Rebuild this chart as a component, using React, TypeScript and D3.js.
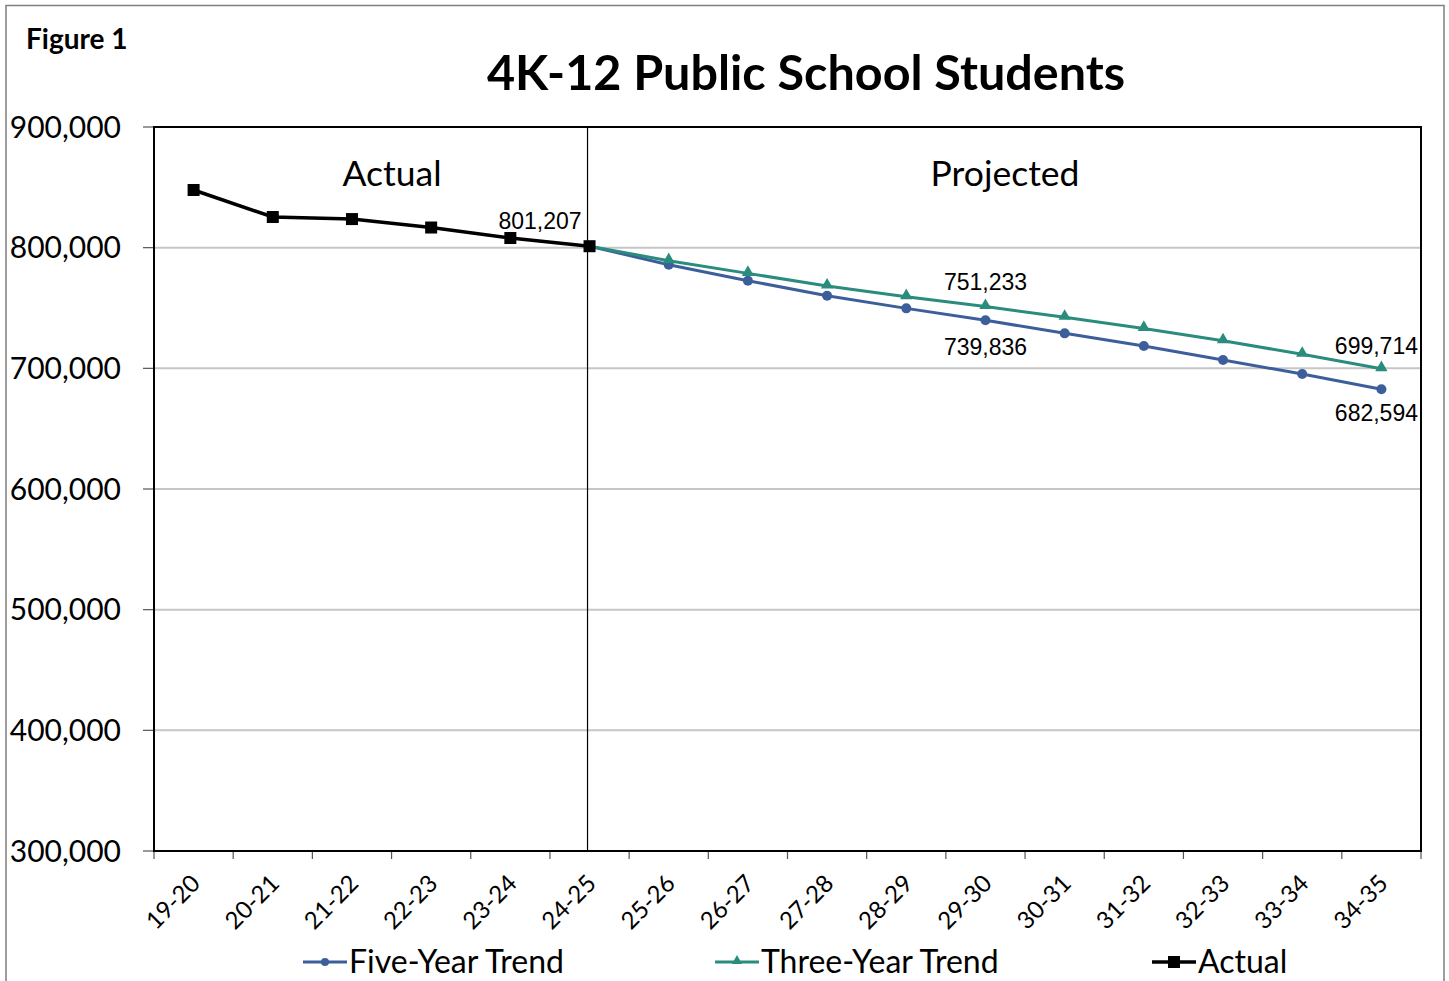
import React from 'react';
import * as d3 from 'd3';

const categories = ['19-20','20-21','21-22','22-23','23-24','24-25','25-26','26-27','27-28','28-29','29-30','30-31','31-32','32-33','33-34','34-35'];
const actualCats = ['19-20','20-21','21-22','22-23','23-24','24-25'];
const actualValues = [847800, 825400, 823700, 816700, 808000, 801207];
const projCats = ['24-25','25-26','26-27','27-28','28-29','29-30','30-31','31-32','32-33','33-34','34-35'];
const fiveYearValues = [801207, 785900, 772600, 760200, 749700, 739836, 729000, 718500, 706900, 695300, 682594];
const threeYearValues = [801207, 789200, 778700, 768200, 759400, 751233, 742300, 733100, 722900, 711600, 699714];
const yTicks = [300000, 400000, 500000, 600000, 700000, 800000, 900000];

const W = 1449, H = 981;
const L = 154, R = 1421, T = 127, B = 851;
const BLUE = '#3c5f9b';
const TEAL = '#2a8c7c';
const CAL = 'Lato, "Open Sans", sans-serif';
const ARIAL = '"Liberation Sans", Arial, sans-serif';

export default function App() {
  const x = d3.scaleBand<string>().domain(categories).range([L, R]);
  const cx = (c: string) => (x(c) as number) + x.bandwidth() / 2;
  const y = d3.scaleLinear().domain([300000, 900000]).range([B, T]);
  const fmt = d3.format(',');

  const line = d3.line<[string, number]>().x(d => cx(d[0])).y(d => y(d[1]));
  const actualPts: [string, number][] = actualCats.map((c, i) => [c, actualValues[i]]);
  const fivePts: [string, number][] = projCats.map((c, i) => [c, fiveYearValues[i]]);
  const threePts: [string, number][] = projCats.map((c, i) => [c, threeYearValues[i]]);
  const tri = d3.symbol().type(d3.symbolTriangle).size(65)();
  const triLegend = d3.symbol().type(d3.symbolTriangle).size(45)();

  const boundaries = [...categories.map(c => x(c) as number), R];
  const divX = cx('24-25');

  const labels = [
    { text: fmt(actualValues[5]), x: cx('24-25') - 8, y: y(actualValues[5]) - 17, anchor: 'end' },
    { text: fmt(threeYearValues[5]), x: cx('29-30'), y: y(threeYearValues[5]) - 17, anchor: 'middle' },
    { text: fmt(fiveYearValues[5]), x: cx('29-30'), y: y(fiveYearValues[5]) + 35, anchor: 'middle' },
    { text: fmt(threeYearValues[10]), x: R - 3, y: y(threeYearValues[10]) - 15, anchor: 'end' },
    { text: fmt(fiveYearValues[10]), x: R - 3, y: y(fiveYearValues[10]) + 32, anchor: 'end' },
  ];

  return (
    <svg width={W} height={H} style={{ position: 'absolute', left: 0, top: 0, background: '#fff' }}>
      <rect x={6} y={5.5} width={1438} height={990} fill="#fff" stroke="#7f7f7f" strokeWidth={1.5} />
      <text x={26} y={49} fontFamily={CAL} fontWeight={700} fontSize={28} fill="#000">Figure 1</text>
      <text x={806} y={90} textAnchor="middle" fontFamily={CAL} fontWeight={700} fontSize={48.5} fill="#000">4K-12 Public School Students</text>

      {/* gridlines */}
      {yTicks.filter(v => v > 300000 && v < 900000).map(v => (
        <line key={v} x1={L} x2={R} y1={y(v)} y2={y(v)} stroke="#c6c6c6" strokeWidth={2} />
      ))}
      {/* y ticks & labels */}
      {yTicks.map(v => (
        <g key={'yt' + v}>
          <line x1={143} x2={L} y1={y(v)} y2={y(v)} stroke="#555" strokeWidth={1.2} />
          <text x={121} y={y(v)} dy="0.35em" textAnchor="end" fontFamily={CAL} fontSize={30} fill="#000">{fmt(v)}</text>
        </g>
      ))}
      {/* x ticks */}
      {boundaries.map((bx, i) => (
        <line key={'xt' + i} x1={bx} x2={bx} y1={B} y2={B + 8} stroke="#555" strokeWidth={1.2} />
      ))}
      {categories.map(c => (
        <text key={'xl' + c} transform={`translate(${cx(c) + 8},${B + 34}) rotate(-45)`} textAnchor="end"
          fontFamily={CAL} fontSize={24} fill="#000">{c}</text>
      ))}

      {/* plot border */}
      <rect x={L} y={T} width={R - L} height={B - T} fill="none" stroke="#000" strokeWidth={2} />
      <line x1={divX - 2} x2={divX - 2} y1={T} y2={B} stroke="#000" strokeWidth={1.2} />

      <text x={392} y={186} textAnchor="middle" fontFamily={CAL} fontSize={35.5} fill="#000">Actual</text>
      <text x={1005} y={186} textAnchor="middle" fontFamily={CAL} fontSize={35.5} fill="#000">Projected</text>

      {/* series */}
      <path d={line(fivePts) as string} fill="none" stroke={BLUE} strokeWidth={3} />
      <path d={line(threePts) as string} fill="none" stroke={TEAL} strokeWidth={3} />
      {fivePts.slice(1).map(p => (
        <circle key={'f' + p[0]} cx={cx(p[0])} cy={y(p[1])} r={5} fill={BLUE} />
      ))}
      {threePts.slice(1).map(p => (
        <path key={'t' + p[0]} d={tri as string} transform={`translate(${cx(p[0])},${y(p[1]) - 1})`} fill={TEAL} />
      ))}
      <path d={line(actualPts) as string} fill="none" stroke="#000" strokeWidth={3.5} />
      {actualPts.map(p => (
        <rect key={'a' + p[0]} x={cx(p[0]) - 6} y={y(p[1]) - 6} width={12} height={12} fill="#000" />
      ))}

      {labels.map((l, i) => (
        <text key={'lb' + i} x={l.x} y={l.y} textAnchor={l.anchor as any} fontFamily={ARIAL} fontSize={23} fill="#000">{l.text}</text>
      ))}

      {/* legend */}
      <g fontFamily={CAL} fontSize={32} fill="#000">
        <line x1={303} x2={347} y1={962} y2={962} stroke={BLUE} strokeWidth={3} />
        <circle cx={325} cy={962} r={4} fill={BLUE} />
        <text x={349} y={962} dy="0.35em">Five-Year Trend</text>
        <line x1={715} x2={759} y1={962} y2={962} stroke={TEAL} strokeWidth={3} />
        <path d={triLegend as string} transform="translate(737,961)" fill={TEAL} />
        <text x={761} y={962} dy="0.35em">Three-Year Trend</text>
        <line x1={1152} x2={1196} y1={962} y2={962} stroke="#000" strokeWidth={3.5} />
        <rect x={1168} y={956} width={12} height={12} fill="#000" />
        <text x={1198} y={962} dy="0.35em">Actual</text>
      </g>
    </svg>
  );
}
